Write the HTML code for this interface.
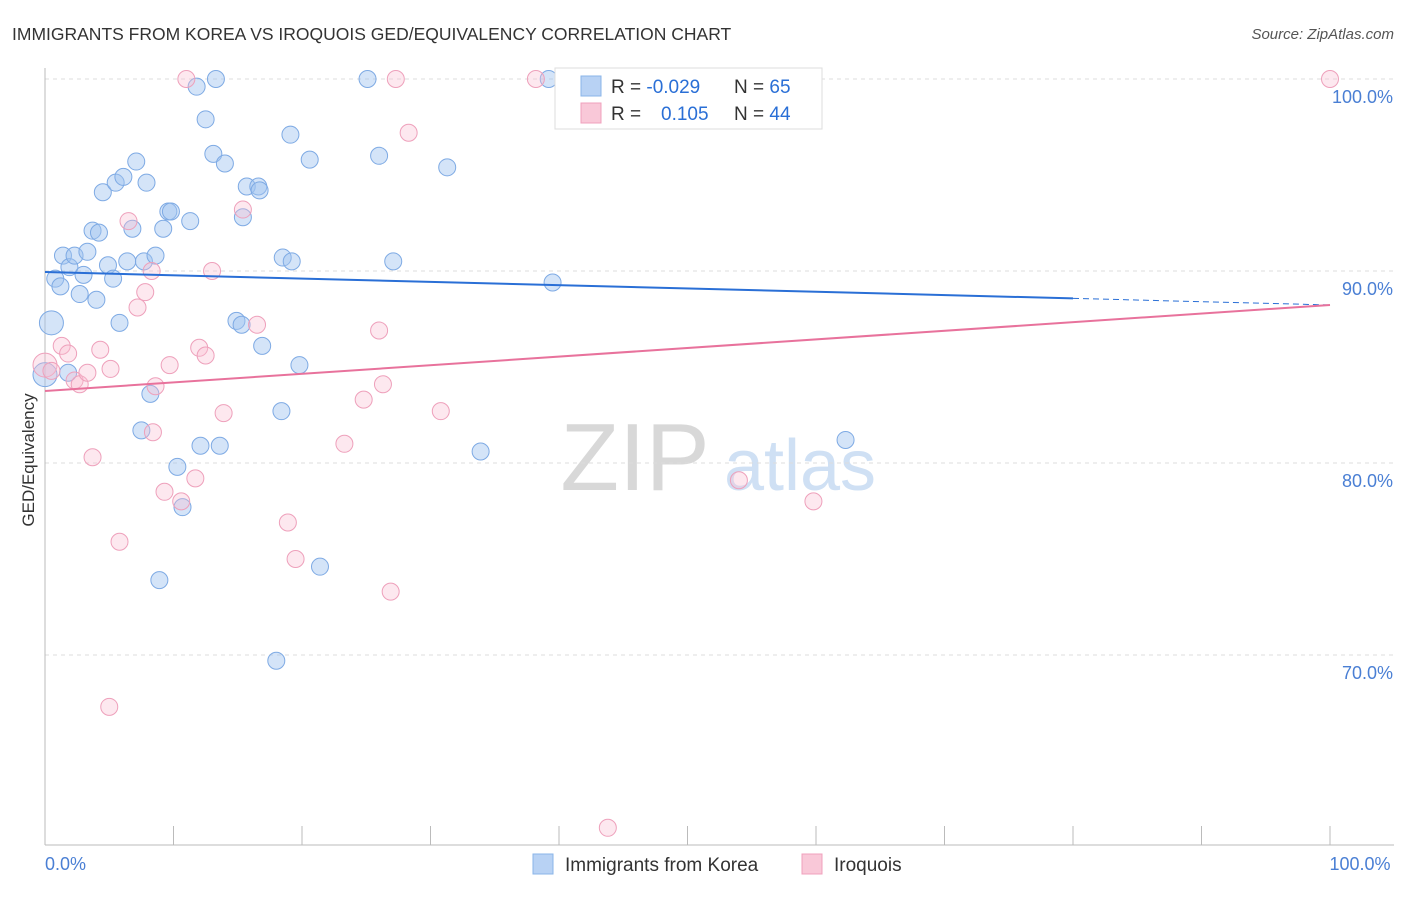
<!DOCTYPE html>
<html><head><meta charset="utf-8"><style>
body{margin:0;background:#fff;font-family:"Liberation Sans",sans-serif}
svg text{font-family:"Liberation Sans",sans-serif}
</style></head><body>
<svg id="chart" width="1406" height="892" viewBox="0 0 1406 892">
<text x="12" y="40" font-size="17.5" fill="#333">IMMIGRANTS FROM KOREA VS IROQUOIS GED/EQUIVALENCY CORRELATION CHART</text>
<text x="1394" y="39" font-size="15" fill="#555" font-style="italic" text-anchor="end">Source: ZipAtlas.com</text>
<g>
<text x="635" y="490" font-size="96" fill="#d8d8d8" font-family="Liberation Serif" text-anchor="middle">ZIP</text>
<text x="800" y="490" font-size="72" fill="#cfe0f4" text-anchor="middle">atlas</text>
</g>
<g id="grid"></g>
<g id="axes"></g>
<g id="points"></g>
<g id="trends"></g>
<text x="34" y="460" font-size="17" fill="#333" transform="rotate(-90 34 460)" text-anchor="middle">GED/Equivalency</text>
<g>
<rect x="555" y="68" width="267" height="61" fill="#fff" stroke="#ddd"/>
<rect x="581" y="76" width="20" height="20" fill="#b8d2f4" stroke="#8ab4e8"/>
<rect x="581" y="103" width="20" height="20" fill="#f9c8d8" stroke="#f0a0bc"/>
<text x="611" y="93" font-size="19" fill="#333">R = <tspan fill="#2a6fd6">-0.029</tspan></text>
<text x="734" y="93" font-size="19" fill="#333">N = <tspan fill="#2a6fd6">65</tspan></text>
<text x="611" y="120" font-size="19" fill="#333">R = <tspan fill="#2a6fd6" x="661">0.105</tspan></text>
<text x="734" y="120" font-size="19" fill="#333">N = <tspan fill="#2a6fd6">44</tspan></text>
</g>
<g>
<rect x="533" y="854" width="20" height="20" fill="#b8d2f4" stroke="#8ab4e8"/>
<text x="565" y="871" font-size="19" fill="#333">Immigrants from Korea</text>
<rect x="802" y="854" width="20" height="20" fill="#f9c8d8" stroke="#f0a0bc"/>
<text x="834" y="871" font-size="19" fill="#333">Iroquois</text>
</g>
</svg>
<script>
const yTicks=[100,90,80,70];
const yTickLabels=["100.0%","90.0%","80.0%","70.0%"];
const xTickLabels=["0.0%","100.0%"];
const koreaX=[0.0,0.5,0.8,1.2,1.4,1.9,1.8,2.3,2.7,3.0,3.3,3.7,4.0,4.2,4.5,4.9,5.3,5.5,5.8,6.1,6.4,6.8,7.1,7.7,7.9,8.2,8.6,7.5,8.9,9.2,9.6,9.8,10.3,10.7,11.3,11.8,12.1,12.5,13.1,13.3,13.6,14.0,14.9,15.3,15.4,15.7,16.6,16.7,16.9,18.0,18.4,18.5,19.1,19.2,19.8,20.6,21.4,25.1,26.0,27.1,31.3,33.9,39.2,39.5,62.3];
const koreaY=[84.6,87.3,89.6,89.2,90.8,90.2,84.7,90.8,88.8,89.8,91.0,92.1,88.5,92.0,94.1,90.3,89.6,94.6,87.3,94.9,90.5,92.2,95.7,90.5,94.6,83.6,90.8,81.7,73.9,92.2,93.1,93.1,79.8,77.7,92.6,99.6,80.9,97.9,96.1,100,80.9,95.6,87.4,87.2,92.8,94.4,94.4,94.2,86.1,69.7,82.7,90.7,97.1,90.5,85.1,95.8,74.6,100,96.0,90.5,95.4,80.6,100,89.4,81.2];
const iroqX=[0.0,0.5,1.3,1.8,2.3,2.7,3.3,3.7,4.3,5.1,5.8,5.0,6.5,7.2,7.8,8.3,8.4,8.6,9.3,9.7,10.6,11.0,11.7,12.0,12.5,13.0,13.9,15.4,16.5,18.9,19.5,23.3,24.8,26.0,26.3,26.9,27.3,28.3,30.8,38.2,43.8,54.0,59.8,100];
const iroqY=[85.1,84.8,86.1,85.7,84.3,84.1,84.7,80.3,85.9,84.9,75.9,67.3,92.6,88.1,88.9,90.0,81.6,84.0,78.5,85.1,78.0,100,79.2,86.0,85.6,90.0,82.6,93.2,87.2,76.9,75.0,81.0,83.3,86.9,84.1,73.3,100,97.2,82.7,100,61.0,79.1,78.0,100];
const koreaTrend=[89.95,88.23];
const iroqTrend=[83.75,88.23];

const NS="http://www.w3.org/2000/svg";
function sx(v){return 45+v*12.85;}
function sy(v){return 79+(100-v)*19.2;}
function mk(tag,attrs,parent){const e=document.createElementNS(NS,tag);for(const k in attrs)e.setAttribute(k,attrs[k]);parent.appendChild(e);return e;}
const grid=document.getElementById('grid'),axes=document.getElementById('axes'),pts=document.getElementById('points'),tr=document.getElementById('trends');
yTicks.forEach((t,i)=>{
  const l=mk('line',{x1:45,x2:1394,y1:sy(t),y2:sy(t),stroke:'#ddd','stroke-dasharray':'4,4'},grid);
  
  
  const tx=mk('text',{x:1393,y:sy(t)+24,'font-size':18,fill:'#4a7fd4','text-anchor':'end'},axes);
  tx.textContent=yTickLabels[i];
  
  
});
const ax=mk('line',{x1:45,x2:1394,y1:845,y2:845,stroke:'#bbb'},axes);


const ay=mk('line',{x1:45,x2:45,y1:68,y2:845,stroke:'#bbb'},axes);


for(let i=0;i<=10;i++){
  const t=mk('line',{x1:sx(i*10),x2:sx(i*10),y1:826,y2:845,stroke:'#bbb'},axes);
  
  
}
[[0,'start'],[100,'middle']].forEach((d,i)=>{
  const tx=mk('text',{x:i?1360:45,y:870,'font-size':18,fill:'#4a7fd4','text-anchor':d[1]},axes);
  tx.textContent=xTickLabels[i];
  
  
});
function dots(X,Y,fill,stroke,name,bigMax){
  X.forEach((x,i)=>{
    const r=(x<=bigMax)?12:8.5;
    const c=mk('circle',{cx:sx(x),cy:sy(Y[i]),r:r,fill:fill,stroke:stroke,'stroke-width':1},pts);
    
    
  });
}
dots(koreaX,koreaY,'rgba(160,196,240,0.45)','#7eaae4','korea-point',0.5);
dots(iroqX,iroqY,'rgba(248,190,210,0.35)','#eea0bb','iroquois-point',0);
function val(a,x){return a[0]+(a[1]-a[0])*x/100;}
let l=mk('line',{x1:sx(0),y1:sy(koreaTrend[0]),x2:sx(80),y2:sy(val(koreaTrend,80)),stroke:'#2a6fd6','stroke-width':2},tr);


l=mk('line',{x1:sx(80),y1:sy(val(koreaTrend,80)),x2:sx(100),y2:sy(koreaTrend[1]),stroke:'#2a6fd6','stroke-width':1,'stroke-dasharray':'6,4'},tr);


l=mk('line',{x1:sx(0),y1:sy(iroqTrend[0]),x2:sx(100),y2:sy(iroqTrend[1]),stroke:'#e8729c','stroke-width':2},tr);


</script>
</body></html>
